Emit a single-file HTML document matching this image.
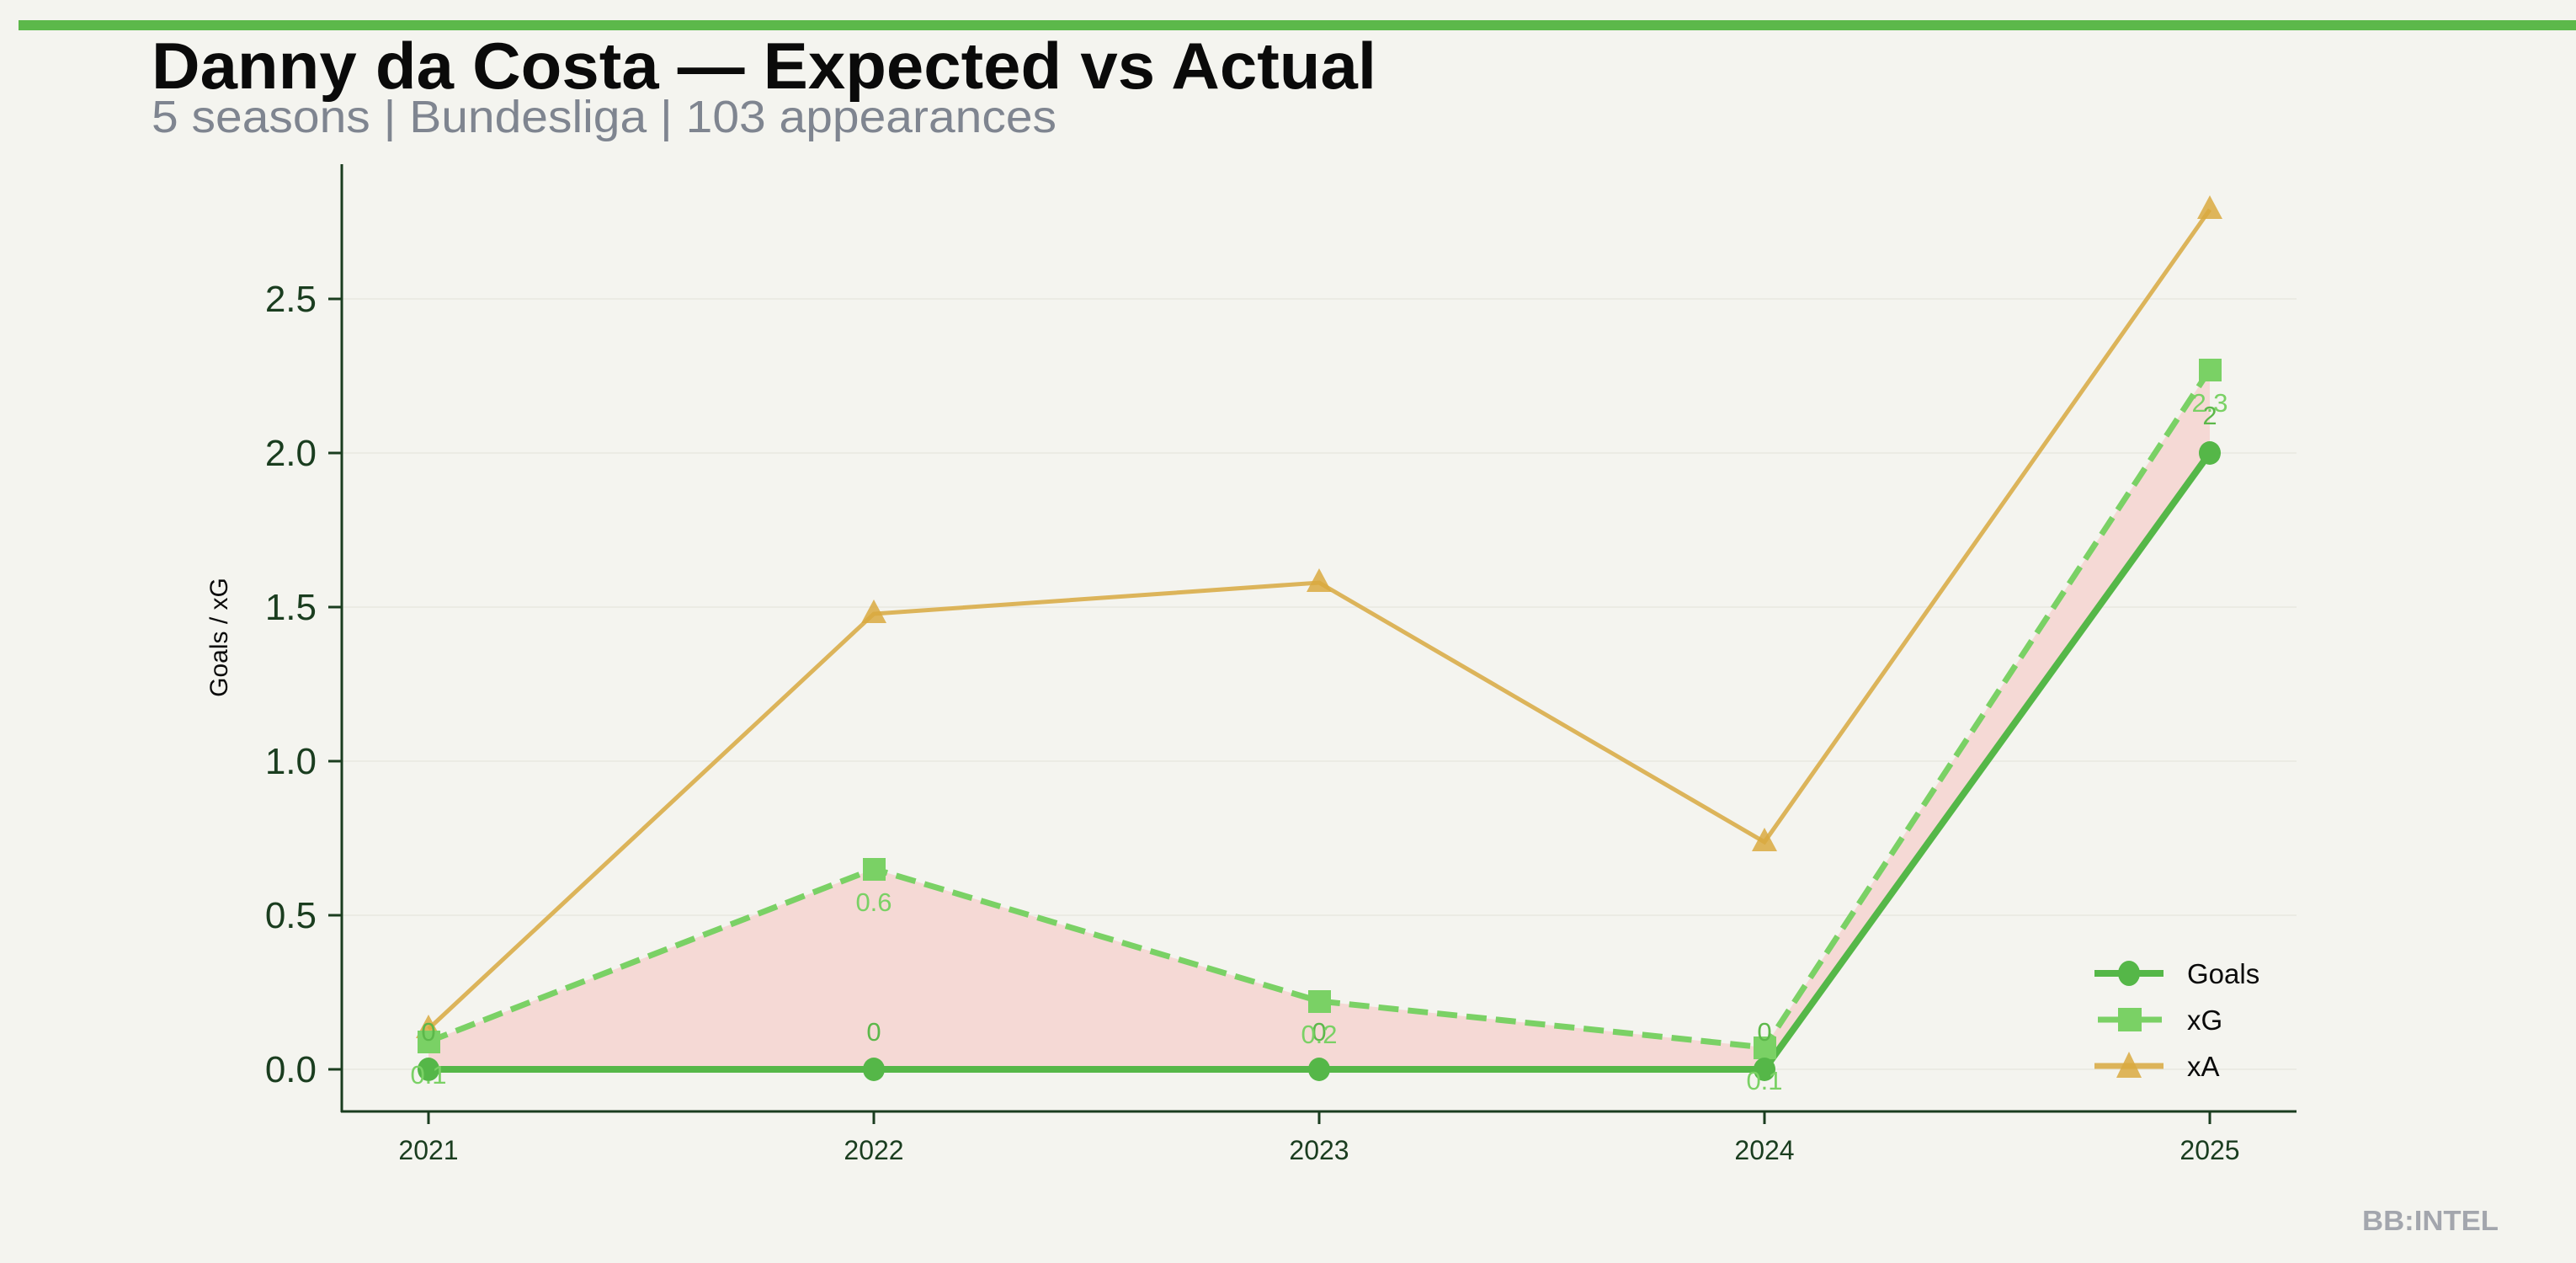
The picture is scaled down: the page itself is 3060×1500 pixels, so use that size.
<!DOCTYPE html>
<html><head><meta charset="utf-8"><style>html,body{margin:0;padding:0;background:#f4f4ef}svg{display:block}</style></head><body>
<svg width="3060" height="1500" viewBox="0 0 3060 1500" xmlns="http://www.w3.org/2000/svg" font-family="Liberation Sans, sans-serif">
<rect width="3060" height="1500" fill="#f4f4ef"/>
<rect x="22" y="24" width="3038" height="12" fill="#5cb84a"/>
<text x="180" y="105" font-size="78" font-weight="bold" fill="#0a0a0a" textLength="1455" lengthAdjust="spacingAndGlyphs">Danny da Costa — Expected vs Actual</text>
<text x="180" y="157" font-size="54" fill="#7f8590" textLength="1075" lengthAdjust="spacingAndGlyphs">5 seasons | Bundesliga | 103 appearances</text>
<g stroke="#ebebe4" stroke-width="2">
<line x1="406" x2="2728" y1="1270" y2="1270"/><line x1="406" x2="2728" y1="1087" y2="1087"/><line x1="406" x2="2728" y1="904" y2="904"/><line x1="406" x2="2728" y1="721" y2="721"/><line x1="406" x2="2728" y1="538" y2="538"/><line x1="406" x2="2728" y1="355" y2="355"/>
</g>
<polygon points="509,1270 1038,1270 1567,1270 2096,1270 2625,538 2625,439 2096,1244 1567,1189 1038,1032 509,1237" fill="#f5d9d5"/>
<polyline points="509,1222 1038,729 1567,692 2096,1000 2625,249" fill="none" stroke="#dcb45a" stroke-width="5"/>
<polyline points="509,1237 1038,1032 1567,1189 2096,1244 2625,439" fill="none" stroke="#7ad165" stroke-width="7" stroke-dasharray="24,11"/>
<polyline points="509,1270 1038,1270 1567,1270 2096,1270 2625,538" fill="none" stroke="#55b748" stroke-width="8"/>
<g fill="#d9a93f" fill-opacity="0.85">
<polygon points="509,1205 494,1233 524,1233"/><polygon points="1038,712 1023,740 1053,740"/><polygon points="1567,675 1552,703 1582,703"/><polygon points="2096,983 2081,1011 2111,1011"/><polygon points="2625,232 2610,260 2640,260"/>
</g>
<g fill="#7ad165">
<rect x="496" y="1224" width="27" height="27"/><rect x="1025" y="1019" width="27" height="27"/><rect x="1554" y="1176" width="27" height="27"/><rect x="2083" y="1231" width="27" height="27"/><rect x="2612" y="426" width="27" height="27"/>
</g>
<g fill="#55b748">
<ellipse cx="509" cy="1270" rx="13" ry="14"/><ellipse cx="1038" cy="1270" rx="13" ry="14"/><ellipse cx="1567" cy="1270" rx="13" ry="14"/><ellipse cx="2096" cy="1270" rx="13" ry="14"/><ellipse cx="2625" cy="538" rx="13" ry="14"/>
</g>
<g font-size="31" text-anchor="middle" fill="#5cb84a">
<text x="509" y="1236">0</text><text x="1038" y="1236">0</text><text x="1567" y="1236">0</text><text x="2096" y="1236">0</text><text x="2625" y="504">2</text>
</g>
<g font-size="31" text-anchor="middle" fill="#7ad165">
<text x="509" y="1287">0.1</text><text x="1038" y="1082">0.6</text><text x="1567" y="1239">0.2</text><text x="2096" y="1294">0.1</text><text x="2625" y="489">2.3</text>
</g>
<g stroke="#1a3d1f" stroke-width="3">
<line x1="406" y1="195" x2="406" y2="1321"/><line x1="405" y1="1320" x2="2728" y2="1320"/>
<line x1="390" x2="406" y1="1270" y2="1270"/><line x1="390" x2="406" y1="1087" y2="1087"/><line x1="390" x2="406" y1="904" y2="904"/><line x1="390" x2="406" y1="721" y2="721"/><line x1="390" x2="406" y1="538" y2="538"/><line x1="390" x2="406" y1="355" y2="355"/>
<line x1="509" x2="509" y1="1320" y2="1335"/><line x1="1038" x2="1038" y1="1320" y2="1335"/><line x1="1567" x2="1567" y1="1320" y2="1335"/><line x1="2096" x2="2096" y1="1320" y2="1335"/><line x1="2625" x2="2625" y1="1320" y2="1335"/>
</g>
<g font-size="44" text-anchor="end" fill="#1a3d1f">
<text x="376" y="1285">0.0</text><text x="376" y="1102">0.5</text><text x="376" y="919">1.0</text><text x="376" y="736">1.5</text><text x="376" y="553">2.0</text><text x="376" y="370">2.5</text>
</g>
<g font-size="32" text-anchor="middle" fill="#1a3d1f">
<text x="509" y="1377">2021</text><text x="1038" y="1377">2022</text><text x="1567" y="1377">2023</text><text x="2096" y="1377">2024</text><text x="2625" y="1377">2025</text>
</g>
<text x="270" y="757" font-size="30" text-anchor="middle" fill="#0a0a0a" transform="rotate(-90 270 757)">Goals / xG</text>
<line x1="2488" x2="2570" y1="1156" y2="1156" stroke="#55b748" stroke-width="8"/><ellipse cx="2529" cy="1156" rx="13" ry="15" fill="#55b748"/>
<line x1="2492" x2="2568" y1="1211" y2="1211" stroke="#7ad165" stroke-width="7"/><rect x="2516" y="1197" width="28" height="28" fill="#7ad165"/>
<line x1="2488" x2="2570" y1="1266" y2="1266" stroke="#dcb45a" stroke-width="7"/><polygon points="2529,1249 2514,1280 2544,1280" fill="#d9a93f" fill-opacity="0.85"/>
<g font-size="33" fill="#0a0a0a"><text x="2598" y="1168">Goals</text><text x="2598" y="1223">xG</text><text x="2598" y="1278">xA</text></g>
<text x="2806" y="1461" font-size="33" font-weight="bold" fill="#a3a6ad" textLength="162" lengthAdjust="spacingAndGlyphs">BB:INTEL</text>
</svg>
</body></html>
